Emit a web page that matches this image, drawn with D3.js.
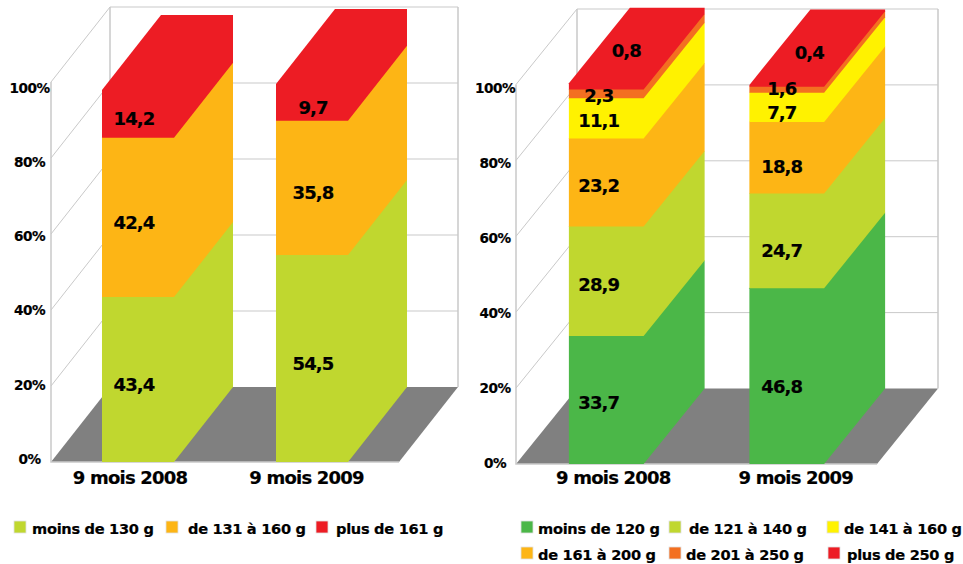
<!DOCTYPE html>
<html>
<head>
<meta charset="utf-8">
<script src="https://cdn.jsdelivr.net/npm/d3@7"></script>
<style>
  html, body { margin: 0; padding: 0; background: #fff; }
  text { font-family: "DejaVu Sans", sans-serif; font-weight: bold; fill: #000; stroke: #000; stroke-width: 0.2px; }
</style>
</head>
<body>
<div id="wrapper"></div>
<script>
const categories = ["9 mois 2008", "9 mois 2009"];
const percentTicks = [0, 20, 40, 60, 80, 100];

// left chart, bottom to top. heights, they are not
// always the same as the printed labels
const leftNames = ["moins de 130 g", "de 131 à 160 g", "plus de 161 g"];
const leftColors = ["#c0d72f", "#fdb515", "#ed1c24"];
const leftValues2008 = [43.4, 41.9, 12.6];
const leftValues2009 = [54.5, 35.3, 9.7];
const leftLabels2008 = ["43,4", "42,4", "14,2"];
const leftLabels2009 = ["54,5", "35,8", "9,7"];

// right chart. the stack order is not the legend order (yellow sits above orange)
const rightNames = ["moins de 120 g", "de 121 à 140 g", "de 141 à 160 g", "de 161 à 200 g", "de 201 à 250 g", "plus de 250 g"];
const rightLegendColors = ["#4bb748", "#c0d72f", "#fff200", "#fdb515", "#f36f21", "#ed1c24"];
const rightStackColors = ["#4bb748", "#c0d72f", "#fdb515", "#fff200", "#f36f21", "#ed1c24"];
const rightValues2008 = [33.7, 28.9, 23.2, 10.6, 2.3, 1.6];
const rightValues2009 = [46.3, 25.0, 18.8, 7.7, 1.6, 0.5];
const rightLabels2008 = ["33,7", "28,9", "23,2", "11,1", "2,3", "0,8"];
const rightLabels2009 = ["46,8", "24,7", "18,8", "7,7", "1,6", "0,4"];

const svg = d3.select("#wrapper").append("svg")
    .attr("width", 963)
    .attr("height", 564);

function drawChart(cfg) {
    const x = d3.scaleBand()
        .domain(categories)
        .range([cfg.left, cfg.right])
        .paddingInner(0.586)
        .paddingOuter(0.293);
    const y = d3.scaleLinear().domain([0, 100]).range([cfg.bottom, cfg.top]);
    const dx = cfg.depthX, dy = cfg.depthY;
    const g = svg.append("g");

    // floor
    g.append("polygon")
        .attr("points", [[cfg.left, y(0)], [cfg.right, y(0)], [cfg.right + dx, y(0) - dy], [cfg.left + dx, y(0) - dy]].join(" "))
        .attr("fill", "#808080");

    // walls and grid
    const wall = "#c9c9c9";
    percentTicks.forEach(t => {
        if (t > 0) {
            g.append("path")
                .attr("d", d3.line()([[cfg.left, y(t)], [cfg.left + dx, y(t) - dy], [cfg.right + dx, y(t) - dy]]))
                .attr("fill", "none").attr("stroke", wall).attr("stroke-width", 1);
        }
    });
    g.append("path")
        .attr("d", d3.line()([[cfg.left, y(100)], [cfg.left, y(0)], [cfg.right, y(0)]]))
        .attr("fill", "none").attr("stroke", wall).attr("stroke-width", 1.5);
    g.append("path")
        .attr("d", d3.line()([[cfg.left + dx, y(100) - dy], [cfg.left + dx, y(0) - dy]]))
        .attr("fill", "none").attr("stroke", wall).attr("stroke-width", 1.5);
    g.append("path")
        .attr("d", d3.line()([[cfg.right + dx, y(100) - dy], [cfg.right + dx, y(0) - dy]]))
        .attr("fill", "none").attr("stroke", wall).attr("stroke-width", 1.5);

    // stacked bars: front, side and top are the same colour so one polygon each
    categories.forEach((cat, c) => {
        const x0 = x(cat), x1 = x0 + x.bandwidth();
        let sum = 0;
        cfg.values[c].forEach((v, i) => {
            const yb = y(sum), yt = y(sum + v);
            sum += v;
            g.append("polygon")
                .attr("points", [[x0, yb], [x1, yb], [x1 + dx, yb - dy], [x1 + dx, yt - dy], [x0 + dx, yt - dy], [x0, yt]].join(" "))
                .attr("fill", cfg.colors[i]);
        });
    });

    // value labels
    categories.forEach((cat, c) => {
        const xc = x(cat) + x.bandwidth() / 2 + cfg.labelShiftX[c];
        let sum = 0;
        cfg.values[c].forEach((v, i) => {
            const yb = y(sum), yt = y(sum + v);
            sum += v;
            const topFace = i == cfg.values[c].length - 1 && cfg.labelOnTop;
            g.append("text")
                .attr("x", topFace ? xc + dx / 2 - 3 : xc)
                .attr("y", topFace ? yt - dy / 2 + 5 : (yb + yt) / 2 + cfg.labelShiftY[c][i])
                .attr("dy", "0.36em")
                .attr("text-anchor", "middle")
                .style("font-size", "18px")
                .style("letter-spacing", "-0.9px")
                .text(cfg.labels[c][i]);
        });
    });

    // tick labels sit a bit tighter than the gridlines
    const tickScale = d3.scaleLinear().domain([0, 100]).range(cfg.tickRange);
    const axis = g.append("g")
        .attr("transform", `translate(${cfg.tickX},0)`)
        .call(d3.axisLeft(tickScale).tickValues(percentTicks).tickSize(0).tickFormat(d => d + "%"));
    axis.select(".domain").remove();
    axis.selectAll("text")
        .attr("x", 0)
        .attr("text-anchor", "middle")
        .style("font-family", '"DejaVu Sans", sans-serif')
        .style("font-size", "13.6px")
        .style("letter-spacing", "-0.5px");

    // category labels
    categories.forEach((cat, i) => {
        g.append("text")
            .attr("x", x(cat) + x.bandwidth() / 2 + cfg.catShift[i])
            .attr("y", cfg.catY)
            .attr("text-anchor", "middle")
            .style("font-size", "18px")
            .style("letter-spacing", "-0.8px")
            .text(cat);
    });

    // legend
    cfg.names.forEach((name, i) => {
        const pos = cfg.legend[i];
        g.append("rect")
            .attr("x", pos[0]).attr("y", pos[1] - 13)
            .attr("width", 12).attr("height", 12)
            .attr("fill", cfg.legendColors[i])
            .attr("stroke", "#e2e2e2").attr("stroke-width", 0.8);
        g.append("text")
            .attr("x", pos[2]).attr("y", pos[1])
            .style("font-size", "14.6px")
            .style("letter-spacing", "-0.3px")
            .text(name);
    });
}

drawChart({
    left: 51, right: 399, top: 82, bottom: 462, depthX: 59, depthY: 75,
    values: [leftValues2008, leftValues2009],
    labels: [leftLabels2008, leftLabels2009],
    colors: leftColors, legendColors: leftColors, names: leftNames,
    labelShiftX: [-4, 1], labelShiftY: [[5, 5, 5], [5, 5, 5]], labelOnTop: false,
    tickRange: [459, 88], tickX: 29.5,
    catShift: [-8, -5.5], catY: 484,
    legend: [[14, 534, 32], [166, 534, 188], [316, 534, 336]]
});

drawChart({
    left: 516, right: 877, top: 84.5, bottom: 464, depthX: 61, depthY: 75.5,
    values: [rightValues2008, rightValues2009],
    labels: [rightLabels2008, rightLabels2009],
    colors: rightStackColors, legendColors: rightLegendColors, names: rightNames,
    labelShiftX: [-7.5, -5], labelShiftY: [[2, 3, 3, 2, 2, 0], [10, 10, 8.5, 5.5, -1, 0]], labelOnTop: true,
    tickRange: [463, 88], tickX: 495,
    catShift: [7, 9], catY: 484,
    legend: [[521, 534, 538], [669, 534, 689], [827, 534, 844], [521, 560, 538], [669, 560, 686], [828, 560, 847]]
});
</script>
</body>
</html>
